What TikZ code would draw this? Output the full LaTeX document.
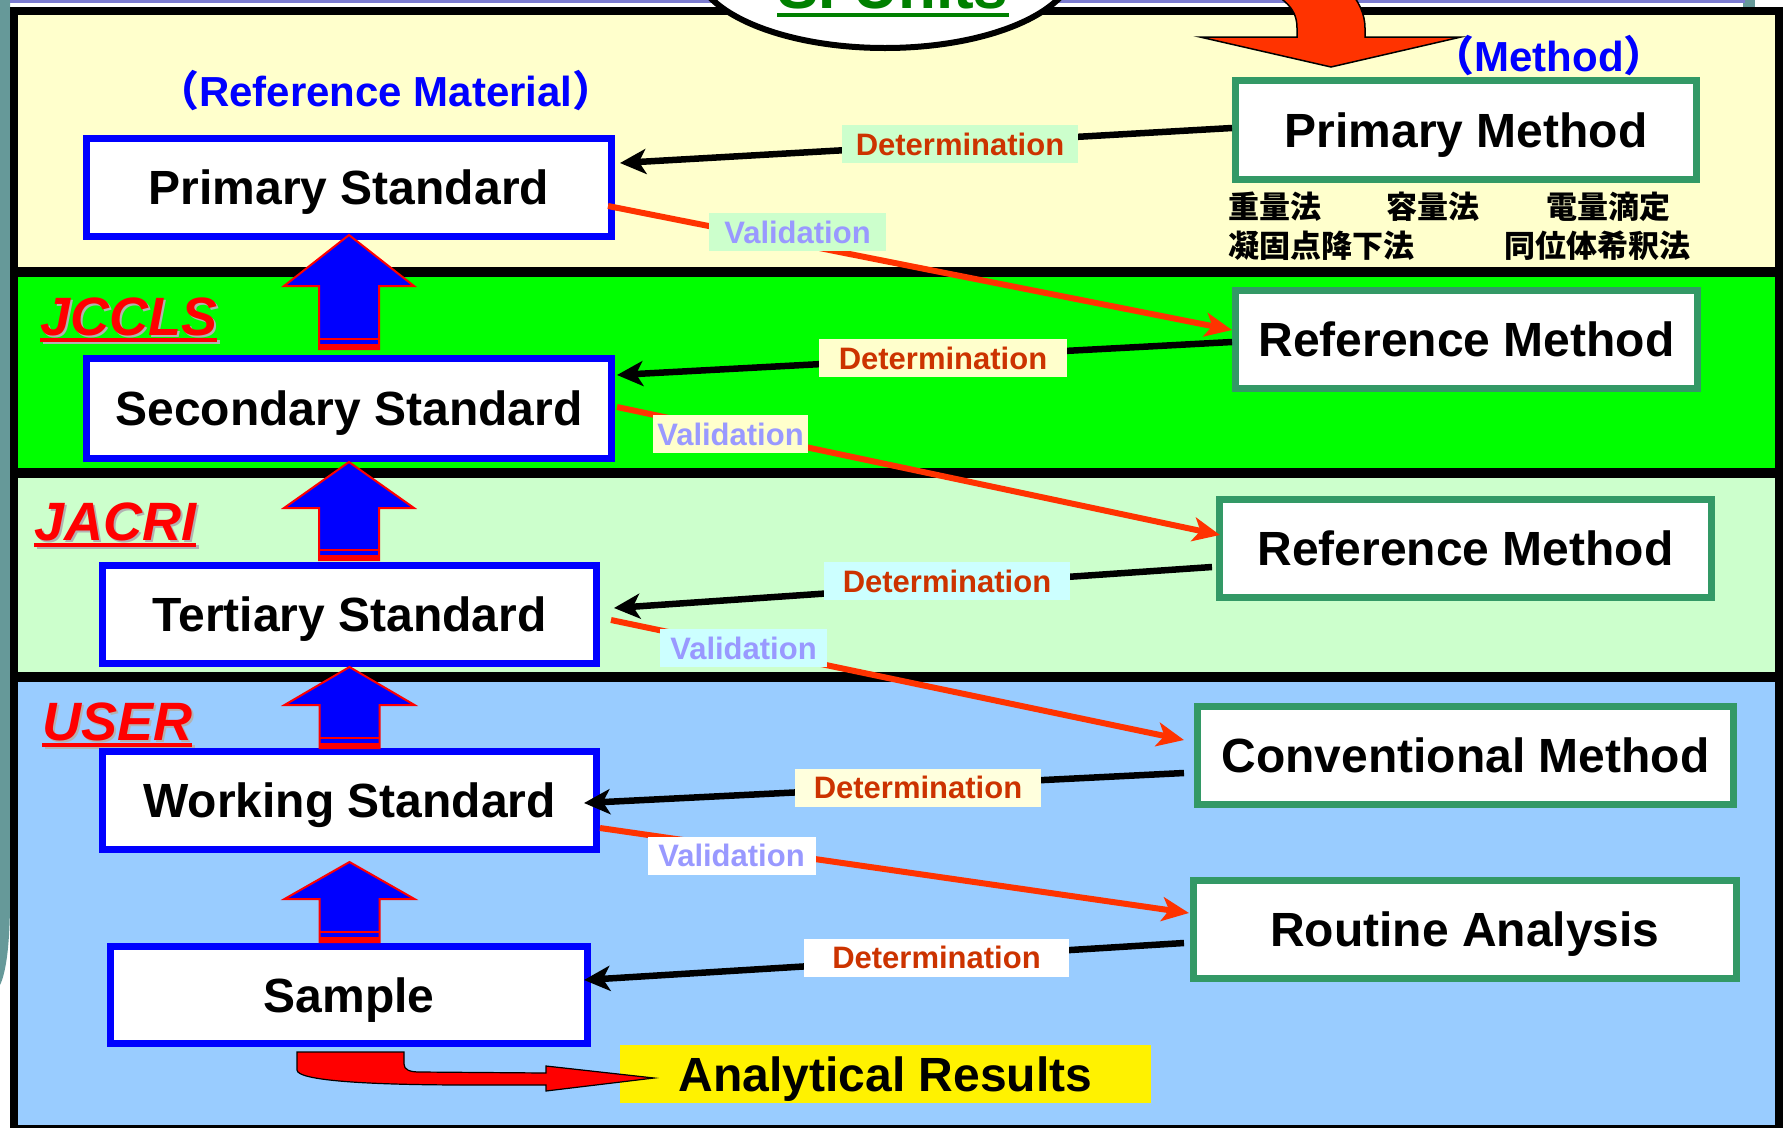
\documentclass[tikz,border=0pt]{standalone}
\usepackage{fontspec}
\setmainfont{Liberation Sans}
\newfontfamily\cjk{Noto Sans CJK JP}
\usetikzlibrary{arrows.meta}
\definecolor{creamC}{HTML}{FFFFCC}
\definecolor{greenC}{HTML}{00FF00}
\definecolor{lgreenC}{HTML}{CCFFCC}
\definecolor{blueC}{HTML}{99CCFF}
\definecolor{stdblue}{HTML}{0000FF}
\definecolor{methgreen}{HTML}{339966}
\definecolor{detred}{HTML}{CC3300}
\definecolor{valblue}{HTML}{9999FF}
\definecolor{valline}{HTML}{FF3300}
\definecolor{tealC}{HTML}{669999}
\definecolor{lcyan}{HTML}{CCFFFF}
\definecolor{lyellow}{HTML}{FFFFDD}
\definecolor{topline}{HTML}{7B7BD0}
\definecolor{siGreen}{HTML}{008000}
\newcommand\blueup[5]{%
  \path ([yshift=#3]#1.south) coordinate (bt);
  \path (bt |- #2.north) coordinate (bc);
  \path ([yshift=#5]bc) coordinate (bb);
  \filldraw[fill=stdblue,draw=red,line width=2pt] (bt) -- ++(65,#4) -- ++(-35,0) -- ([xshift=30pt]bb) -- ([xshift=-30pt]bb) -- ([xshift=-30pt,yshift=-#4pt]bt) -- ++(-35,0) -- cycle;
  \draw[red,line width=2.5pt] ([xshift=-30pt,yshift=10pt]bb) -- ([xshift=30pt,yshift=10pt]bb);
  \fill[red] ([xshift=-30pt]bb) rectangle ([xshift=30pt,yshift=5pt]bb);
}
\begin{document}
\begin{tikzpicture}[x=1pt,y=-1pt,
  boxtext/.style={inner sep=0pt,font=\fontsize{48}{50}\selectfont\bfseries,text height=34.4pt,text depth=0pt},
  stdbox/.style={boxtext,draw=stdblue,line width=7pt,fill=white},
  methbox/.style={boxtext,draw=methgreen,line width=7pt,fill=white},
  tag/.style={inner sep=0pt,minimum height=38pt,text height=22.2pt,text depth=0pt,font=\fontsize{31}{33}\selectfont\bfseries},
  dettag/.style={tag,text=detred},
  valtag/.style={tag,text=valblue},
  detarrow/.style={line width=6.5pt,-{Stealth[length=26pt,width=25pt,inset=7pt]}},
  valarrow/.style={draw=valline,line width=6pt,-{Stealth[length=27pt,width=24pt,inset=7pt]}},
  org/.style={text=red,inner sep=0pt,anchor=base west,font=\fontsize{54}{56}\selectfont\bfseries\itshape},
  orgshadow/.style={org,text=black!30},
  cjktext/.style={inner sep=0pt,anchor=west,font=\fontsize{31}{34}\selectfont\cjk\bfseries},
  bluetitle/.style={text=stdblue,inner sep=0pt,font=\fontsize{42}{44}\selectfont\bfseries}
]
\useasboundingbox (0,0) rectangle (1789,1128);
\clip (0,0) rectangle (1789,1128);
\fill[white] (0,0) rectangle (1789,1128);
% slide remnants
\fill[tealC] (0,0) -- (10,0) -- (10,900) .. controls (10,950) and (5,975) .. (0,985) -- cycle;
\fill[tealC] (1743,0) rectangle (1755,8);
\draw[topline,line width=3pt] (10,1.5) -- (1745,1.5);
% bands
\fill[black] (10,7) rectangle (1783,1128);
\fill[creamC] (18,15) rectangle (1775,267);
\fill[greenC] (18,277) rectangle (1775,468);
\fill[lgreenC] (18,478) rectangle (1775,672);
\fill[blueC] (18,682) rectangle (1775,1125);
% SI units ellipse
\draw[line width=6pt,fill=white] (885,-35) ellipse [x radius=190,y radius=83];
\node[text=siGreen,inner sep=0pt,anchor=base,font=\fontsize{62}{64}\selectfont\bfseries] (si) at (893,8) {SI Units};
\draw[siGreen,line width=4pt] ([yshift=-7pt]si.base west) -- ([yshift=-7pt]si.base east);
% red arrow from top
\filldraw[fill=valline,draw=black,line width=1.5pt] (1235,-25) .. controls (1285,-5) and (1297,8) .. (1297,28) -- (1297,37) -- (1200,37) -- (1331,67) -- (1461,37) -- (1365,37) -- (1365,28) .. controls (1365,0) and (1340,-25) .. (1300,-45) -- cycle;
% titles
\node[bluetitle] (RMt) at (386,91) {{\cjk （}Reference Material{\cjk ）}};
\node[bluetitle] (Mt) at (1549,56) {{\cjk （}Method{\cjk ）}};
% organisation labels
\node[orgshadow] at (42.5,337.5) {JCCLS};
\node[org] (jc) at (40,335) {JCCLS};
\draw[black!30,line width=3.5pt] ([xshift=2.5pt,yshift=-7pt]jc.base west) -- ([xshift=2.5pt,yshift=-7pt]jc.base east);
\draw[red,line width=3.5pt] ([yshift=-5pt]jc.base west) -- ([yshift=-5pt]jc.base east);
\node[orgshadow] at (36.5,542.5) {JACRI};
\node[org] (ja) at (34,540) {JACRI};
\draw[black!30,line width=3.5pt] ([xshift=2.5pt,yshift=-7pt]ja.base west) -- ([xshift=2.5pt,yshift=-7pt]ja.base east);
\draw[red,line width=3.5pt] ([yshift=-5pt]ja.base west) -- ([yshift=-5pt]ja.base east);
\node[orgshadow] at (44.5,742.5) {USER};
\node[org] (us) at (42,740) {USER};
\draw[black!30,line width=3.5pt] ([xshift=2.5pt,yshift=-7pt]us.base west) -- ([xshift=2.5pt,yshift=-7pt]us.base east);
\draw[red,line width=3.5pt] ([yshift=-5pt]us.base west) -- ([yshift=-5pt]us.base east);
% standards
\node[stdbox,minimum width=525pt,minimum height=98pt] (PS) at (349,187.5) {Primary Standard};
\node[stdbox,minimum width=525pt,minimum height=100pt] (SS) at (349,408.5) {Secondary Standard};
\node[stdbox,minimum width=494pt,minimum height=98pt] (TS) at (349.5,614.5) {Tertiary Standard};
\node[stdbox,minimum width=494pt,minimum height=98pt] (WS) at (349.5,800.5) {Working Standard};
\node[stdbox,minimum width=477pt,minimum height=97pt] (SA) at (349,995) {Sample};
% methods
\node[methbox,minimum width=461pt,minimum height=99pt] (PM) at (1466,130) {Primary Method};
\node[methbox,minimum width=462pt,minimum height=98pt] (RM1) at (1466.5,339.5) {Reference Method};
\node[methbox,minimum width=492pt,minimum height=98pt] (RM2) at (1465.5,548.5) {Reference Method};
\node[methbox,minimum width=536pt,minimum height=98pt] (CM) at (1465.5,755.5) {Conventional Method};
\node[methbox,minimum width=543pt,minimum height=98pt] (RA) at (1465,929.5) {Routine Analysis};
% japanese method names
\node[cjktext] (j1) at (1228,207) {重量法};
\node[cjktext] (j2) at (1386,207) {容量法};
\node[cjktext] (j3) at (1546,207) {電量滴定};
\node[cjktext] (j4) at (1228,246) {凝固点降下法};
\node[cjktext] (j5) at (1504,246) {同位体希釈法};
% analytical results
\node[boxtext,fill=yellow,minimum width=531pt,minimum height=58pt] (AR) at (885.5,1074) {Analytical Results};
\filldraw[fill=red,draw=black,line width=1.2pt] (297,1052) -- (404,1052) -- (404,1064) .. controls (404,1070) and (410,1072) .. (420,1072) -- (546,1073) -- (546,1066) -- (654,1078) -- (546,1091) -- (546,1085) -- (470,1085) .. controls (360,1085) and (297,1080) .. (297,1070) -- cycle;
% blue up arrows
\blueup{PS}{SS}{5pt}{51}{6pt}
\blueup{SS}{TS}{0pt}{46}{2pt}
\blueup{TS}{WS}{0pt}{38}{0pt}
\blueup{WS}{SA}{-9pt}{37}{1pt}
% connectors
\draw[detarrow] ([yshift=2pt]PM.west) -- ([xshift=5pt,yshift=24.5pt]PS.east);
\draw[valarrow] ([xshift=-7pt,yshift=-18.5pt]PS.east) -- ([yshift=9.5pt]RM1.west);
\draw[detarrow] ([yshift=-2.5pt]RM1.west) -- ([xshift=2pt,yshift=33.5pt]SS.east);
\draw[valarrow] ([xshift=2pt,yshift=1.5pt]SS.east) -- ([xshift=4pt,yshift=13.5pt]RM2.west);
\draw[detarrow] ([xshift=-4pt,yshift=-18.5pt]RM2.west) -- ([xshift=14pt,yshift=6.5pt]TS.east);
\draw[valarrow] ([xshift=11pt,yshift=-5.5pt]TS.east) -- ([xshift=-10pt,yshift=15.5pt]CM.west);
\draw[detarrow] ([xshift=-10pt,yshift=-17.5pt]CM.west) -- ([xshift=-16pt,yshift=-2.5pt]WS.east);
\draw[valarrow] ([yshift=-27.5pt]WS.east) -- ([xshift=-1pt,yshift=16.5pt]RA.west);
\draw[detarrow] ([xshift=-6pt,yshift=-13.5pt]RA.west) -- ([xshift=-7pt,yshift=15pt]SA.east);
% connector labels
\node[dettag,fill=lgreenC,minimum width=236pt] (d1) at (960,144) {Determination};
\node[valtag,fill=lgreenC,minimum width=177pt] (v1) at (797.5,232) {Validation};
\node[dettag,fill=creamC,minimum width=248pt] (d2) at (943,358) {Determination};
\node[valtag,fill=creamC,minimum width=155pt] (v2) at (730.5,434) {Validation};
\node[dettag,fill=lcyan,minimum width=246pt] (d3) at (947,581) {Determination};
\node[valtag,fill=lcyan,minimum width=167pt] (v3) at (743.5,648) {Validation};
\node[dettag,fill=lyellow,minimum width=246pt] (d4) at (918,787.5) {Determination};
\node[valtag,fill=white,minimum width=168pt] (v4) at (731.5,855.5) {Validation};
\node[dettag,fill=white,minimum width=265pt] (d5) at (936.5,957.5) {Determination};
\end{tikzpicture}
\end{document}
